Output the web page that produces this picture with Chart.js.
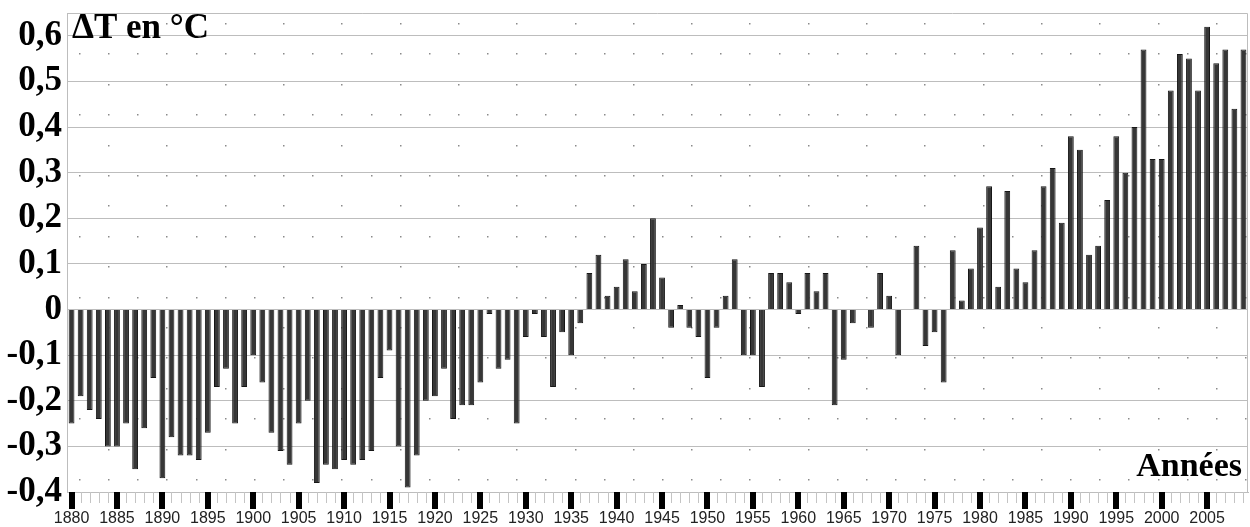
<!DOCTYPE html>
<html>
<head>
<meta charset="utf-8">
<script src="https://cdn.jsdelivr.net/npm/chart.js@4.4.0/dist/chart.umd.min.js"></script>
<style>
  body { margin: 0; background: #fff; }
  canvas { display: block; }
</style>
</head>
<body>
<canvas id="myChart" width="1250" height="527"></canvas>
<script>
// écarts de température annuels (°C), 1880 à 2009
const firstYear = 1880;
const anomalies = [
  -0.25, -0.19, -0.22, -0.24, -0.30, -0.30, -0.25, -0.35, -0.26, -0.15,
  -0.37, -0.28, -0.32, -0.32, -0.33, -0.27, -0.17, -0.13, -0.25, -0.17,
  -0.10, -0.16, -0.27, -0.31, -0.34, -0.25, -0.20, -0.38, -0.34, -0.35,
  -0.33, -0.34, -0.33, -0.31, -0.15, -0.09, -0.30, -0.39, -0.32, -0.20,
  -0.19, -0.13, -0.24, -0.21, -0.21, -0.16, -0.01, -0.13, -0.11, -0.25,
  -0.06, -0.01, -0.06, -0.17, -0.05, -0.10, -0.03, 0.08, 0.12, 0.03,
  0.05, 0.11, 0.04, 0.10, 0.20, 0.07, -0.04, 0.01, -0.04, -0.06,
  -0.15, -0.04, 0.03, 0.11, -0.10, -0.10, -0.17, 0.08, 0.08, 0.06,
  -0.01, 0.08, 0.04, 0.08, -0.21, -0.11, -0.03, 0.00, -0.04, 0.08,
  0.03, -0.10, 0.00, 0.14, -0.08, -0.05, -0.16, 0.13, 0.02, 0.09,
  0.18, 0.27, 0.05, 0.26, 0.09, 0.06, 0.13, 0.27, 0.31, 0.19,
  0.38, 0.35, 0.12, 0.14, 0.24, 0.38, 0.30, 0.40, 0.57, 0.33,
  0.33, 0.48, 0.56, 0.55, 0.48, 0.62, 0.54, 0.57, 0.44, 0.57
];
const years = anomalies.map((v, i) => firstYear + i);

const yTickValues = [-0.4, -0.3, -0.2, -0.1, 0, 0.1, 0.2, 0.3, 0.4, 0.5, 0.6];
const yTickLabels = ["-0,4", "-0,3", "-0,2", "-0,1", "0", "0,1", "0,2", "0,3", "0,4", "0,5", "0,6"];

const yTitle = "ΔT en °C";
const xTitle = "Années";

const gridGray = "#bdbdbd";

// fond pointillé, cadre, graduations et titres
const decor = {
  id: "decor",
  beforeDatasetsDraw(chart) {
    const ctx = chart.ctx;
    const a = chart.chartArea;
    ctx.save();
    ctx.fillStyle = "#8a8a8a";
    let row = 0;
    for (let y = 23; y < a.bottom; y += 30.4) {
      for (let i = 0, x = 79; x < a.right; i++, x = 79 + i * 29.15) {
        if (row % 2 === 0 && i % 2 === 0) continue;
        ctx.fillRect(Math.round(x), Math.round(y), 1.5, 1.5);
      }
      row++;
    }
    ctx.restore();
  },
  afterDraw(chart) {
    const ctx = chart.ctx;
    const a = chart.chartArea;
    const xs = chart.scales.x;
    ctx.save();
    ctx.strokeStyle = gridGray;
    ctx.lineWidth = 1;
    ctx.beginPath();
    ctx.moveTo(a.left, a.top + 0.5);
    ctx.lineTo(a.right - 0.5, a.top + 0.5);
    ctx.lineTo(a.right - 0.5, a.bottom);
    ctx.stroke();

    years.forEach((yr, i) => {
      const x = xs.getPixelForValue(i);
      if (yr % 5 === 0) {
        ctx.fillStyle = "#000";
        ctx.fillRect(Math.round(x) - 3, a.bottom, 6, 17);
      } else {
        ctx.fillStyle = "#c4c4c4";
        ctx.fillRect(Math.round(x), a.bottom, 1, 11);
      }
    });

    ctx.fillStyle = "#000";
    ctx.font = "bold 35px 'Liberation Serif'";
    ctx.textAlign = "left";
    ctx.textBaseline = "alphabetic";
    ctx.fillText(yTitle, a.left + 5, 38);
    ctx.font = "bold 34px 'Liberation Serif'";
    ctx.textAlign = "right";
    ctx.fillText(xTitle, a.right - 6, 476);
    ctx.restore();
  }
};

new Chart(document.getElementById("myChart"), {
  type: "bar",
  data: {
    labels: years,
    datasets: [{
      data: anomalies,
      backgroundColor: "#363636",
      borderColor: "#161616",
      borderWidth: 1,
      barPercentage: 0.64,
      categoryPercentage: 1
    }]
  },
  options: {
    responsive: false,
    animation: false,
    devicePixelRatio: 1,
    layout: { padding: { top: 13, right: 2, left: 0, bottom: 0 } },
    plugins: { legend: { display: false }, tooltip: { enabled: false } },
    scales: {
      x: {
        offset: true,
        grid: { drawOnChartArea: false, drawTicks: false },
        border: { color: gridGray },
        ticks: {
          autoSkip: false,
          maxRotation: 0,
          padding: 17,
          color: "#222",
          font: { family: "'Liberation Sans'", size: 16 },
          callback: (v, i) => (years[i] % 5 === 0 ? String(years[i]) : "")
        },
        afterFit: (s) => {
          s.height = 35;
          s.paddingLeft = 0;
          s.paddingRight = 0;
        }
      },
      y: {
        min: -0.4,
        max: 0.65,
        afterBuildTicks: (s) => { s.ticks = yTickValues.map((v) => ({ value: v })); },
        afterFit: (s) => {
          s.width = 67;
          s.paddingTop = 0;
          s.paddingBottom = 0;
        },
        grid: { color: gridGray, lineWidth: 1, drawTicks: false },
        border: { color: gridGray },
        ticks: {
          padding: 5,
          color: "#000",
          font: { family: "'Liberation Serif'", size: 35, weight: "bold" },
          callback: (v, i) => yTickLabels[i]
        }
      }
    }
  },
  plugins: [decor]
});
</script>
</body>
</html>
